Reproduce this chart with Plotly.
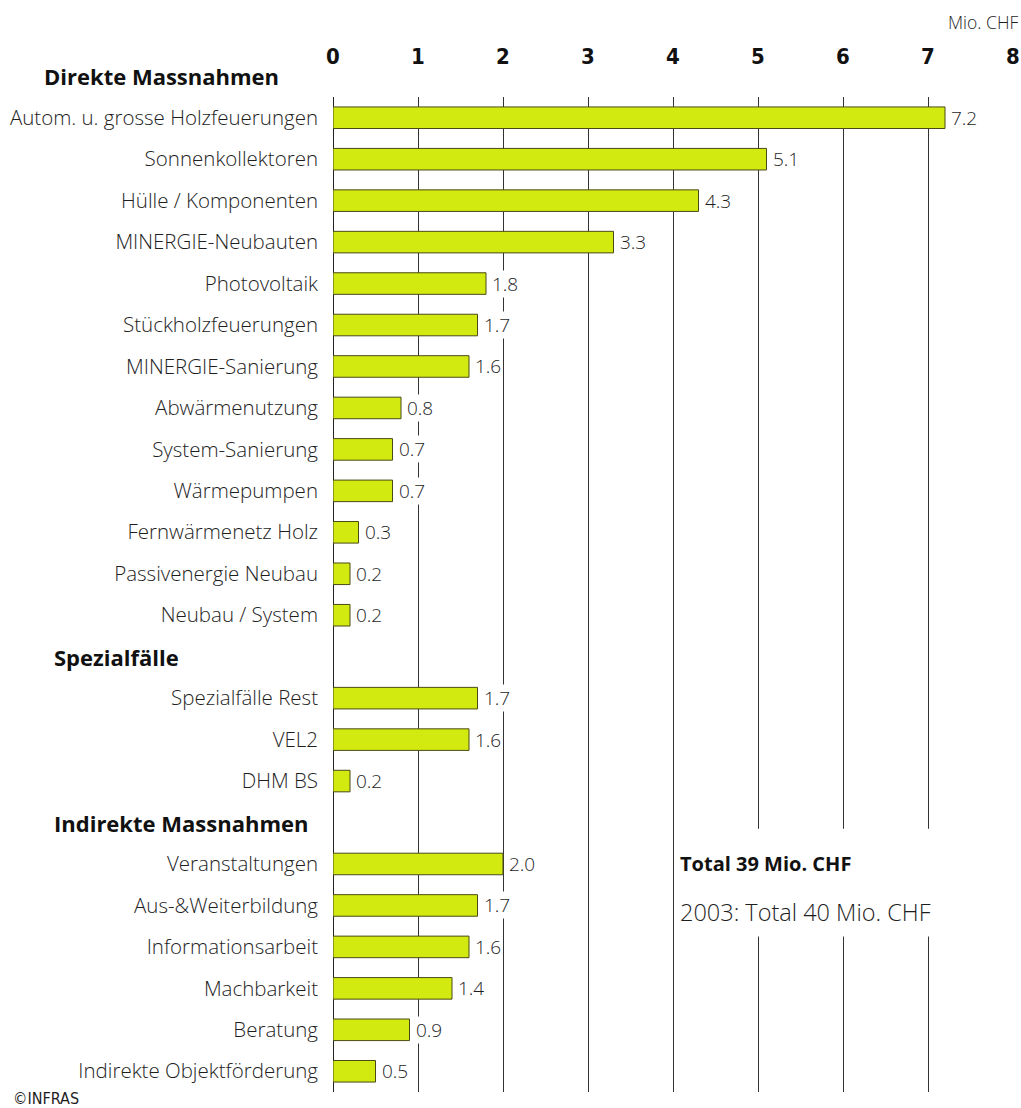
import plotly.graph_objects as go

# Förderbeiträge nach Massnahme (Mio. CHF)
direkte = ["Autom. u. grosse Holzfeuerungen", "Sonnenkollektoren", "Hülle / Komponenten",
           "MINERGIE-Neubauten", "Photovoltaik", "Stückholzfeuerungen", "MINERGIE-Sanierung",
           "Abwärmenutzung", "System-Sanierung", "Wärmepumpen", "Fernwärmenetz Holz",
           "Passivenergie Neubau", "Neubau / System"]
direkte_val = [7.2, 5.1, 4.3, 3.3, 1.8, 1.7, 1.6, 0.8, 0.7, 0.7, 0.3, 0.2, 0.2]

spezial = ["Spezialfälle Rest", "VEL2", "DHM BS"]
spezial_val = [1.7, 1.6, 0.2]

indirekte = ["Veranstaltungen", "Aus-&Weiterbildung", "Informationsarbeit",
             "Machbarkeit", "Beratung", "Indirekte Objektförderung"]
indirekte_val = [2.0, 1.7, 1.6, 1.4, 0.9, 0.5]

groups = ["Direkte Massnahmen", "Spezialfälle", "Indirekte Massnahmen"]
x_ticks = [0, 1, 2, 3, 4, 5, 6, 7, 8]

# build row positions: one header row per group, then its items
labels, values, rows, header_rows = [], [], [], []
r = 0
for name, cats, vals in zip(groups, [direkte, spezial, indirekte],
                            [direkte_val, spezial_val, indirekte_val]):
    header_rows.append(r)
    r += 1
    for c, v in zip(cats, vals):
        labels.append(c)
        values.append(v)
        rows.append(r)
        r += 1

W, H = 1021, 1108
L, R, T, B = 333, 8, 97, 16
FONT = "Open Sans"
TXT = "#1e1e1e"
ROW0 = 0.5  # top of y range (rows are reversed)
ROWN = 24.5


def px2x(p):
    # figure pixel -> paper x (paper = plot area in plotly)
    return (p - L) / (W - L - R)


def py2y(p):
    return (H - B - p) / (H - T - B)


def row2paper(rw):
    return (ROWN - rw) / (ROWN - ROW0)


fig = go.Figure(go.Bar(
    x=values, y=rows, orientation="h", width=0.52,
    marker=dict(color="#d3ea10", line=dict(color="#4a4a18", width=1)),
    hoverinfo="skip",
))

# value labels with white background (they cut the gridlines like in the original)
for v, rr in zip(values, rows):
    fig.add_annotation(x=v, y=rr, xref="x", yref="y", text=f"{v:.1f}",
                       showarrow=False, xanchor="left", xshift=5,
                       bgcolor="white", borderpad=0,
                       font=dict(family=FONT, size=19, color=TXT, weight=300))

# group headers (paper y so the first one above the plot area is not hidden)
for name, hr, xs in zip(groups, header_rows, [42, 52, 52]):
    fig.add_annotation(x=px2x(xs), y=row2paper(hr), xref="paper", yref="paper", text=name,
                       showarrow=False, xanchor="left", yanchor="middle",
                       font=dict(family=FONT, size=22, color="#111", weight=700))

# total box
fig.add_shape(type="rect", xref="x", yref="y", x0=4.04, x1=7.96, y0=18.15, y1=20.75,
              fillcolor="white", line=dict(width=0), layer="above")
fig.add_annotation(x=4.06, y=19, xref="x", yref="y", text="Total 39 Mio. CHF",
                   showarrow=False, xanchor="left",
                   font=dict(family=FONT, size=20, color="#111", weight=700))
fig.add_annotation(x=4.06, y=20.15, xref="x", yref="y", text="2003: Total 40 Mio. CHF",
                   showarrow=False, xanchor="left",
                   font=dict(family=FONT, size=23.5, color=TXT, weight=300))

fig.add_annotation(x=px2x(1020), y=py2y(22), xref="paper", yref="paper", text="Mio. CHF",
                   showarrow=False, xanchor="right", yanchor="middle",
                   font=dict(family=FONT, size=17.5, color=TXT, weight=300))
fig.add_annotation(x=px2x(11), y=py2y(1098), xref="paper", yref="paper", text="©INFRAS",
                   showarrow=False, xanchor="left", yanchor="middle",
                   font=dict(family="DejaVu Sans Condensed", size=16, color=TXT))

fig.update_layout(
    width=W, height=H,
    margin=dict(l=L, r=R, t=T, b=B, autoexpand=False),
    paper_bgcolor="white", plot_bgcolor="white",
    showlegend=False,
    xaxis=dict(side="top", range=[0, 8], tickvals=x_ticks, ticks="",
               showgrid=True, gridcolor="#333", gridwidth=1,
               zeroline=True, zerolinecolor="#222", zerolinewidth=1,
               ticklabelstandoff=28, automargin=False,
               tickfont=dict(family="Liberation Sans Narrow, DejaVu Sans Condensed",
                             size=22, color="#111", weight=700),
               fixedrange=True),
    yaxis=dict(range=[ROWN, ROW0], tickmode="array", tickvals=rows, ticktext=labels,
               ticks="", showgrid=False, zeroline=False, ticklabelstandoff=14,
               automargin=False,
               tickfont=dict(family=FONT, size=20.5, color=TXT, weight=300),
               fixedrange=True),
)

# the page body has a default 8px margin; remove it so the figure sits at 0,0
fig.write_html("out.html", config={"displayModeBar": False},
               post_script="document.body.style.margin='0';")
